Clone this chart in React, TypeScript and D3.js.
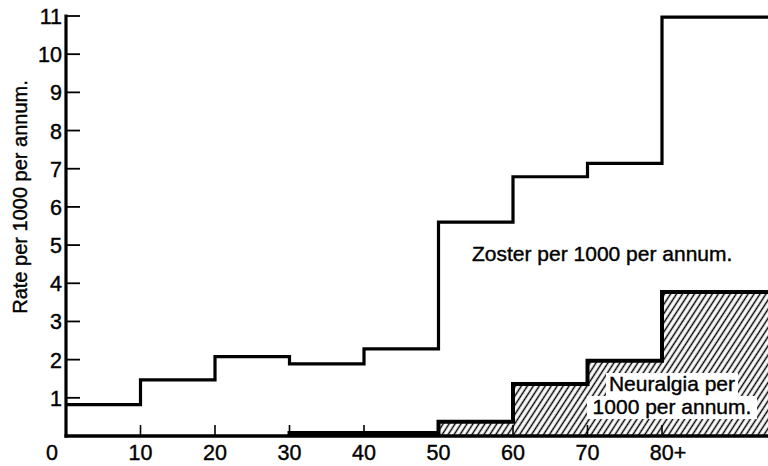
import React from "react";
import * as d3 from "d3";

// Age group boundaries (years); last group "80+" drawn open to the right edge
const ageStarts = [0, 10, 20, 30, 40, 50, 60, 70, 80];
const ageEnd = 95;

// Rate per 1000 per annum
const zosterRates = [0.82, 1.47, 2.08, 1.89, 2.28, 5.6, 6.79, 7.14, 10.97];
const neuralgiaStarts = [30, 40, 50, 60, 70, 80];
const neuralgiaRates = [0.08, 0.08, 0.37, 1.36, 1.97, 3.77];

const yTicks = [1, 2, 3, 4, 5, 6, 7, 8, 9, 10, 11];
const xTickValues = [10, 20, 30, 40, 50, 60, 70, 80];
const xTickLabels = ["0", "10", "20", "30", "40", "50", "60", "70", "80+"];
const xLabelValues = [0, 10, 20, 30, 40, 50, 60, 70, 80];

const yTitle = "Rate per 1000 per annum.";
const zosterLabel = "Zoster per 1000 per annum.";
const neuralgiaLabel = ["Neuralgia per", "1000 per annum."];

const W = 768;
const H = 466;
const FONT = "'Liberation Sans', Arial, Helvetica, sans-serif";
const TS = { stroke: "#000", strokeWidth: 0.4 };

export default function App() {
  const x = d3.scaleLinear().domain([0, 80]).range([66, 662]);
  const y = d3.scaleLinear().domain([0, 11]).range([436, 16]);

  const zPts: [number, number][] = ageStarts.map((a, i) => [a, zosterRates[i]]);
  zPts.push([ageEnd, zosterRates[zosterRates.length - 1]]);
  const stepLine = d3
    .line<[number, number]>()
    .x((d) => x(d[0]))
    .y((d) => y(d[1]))
    .curve(d3.curveStepAfter);

  const nPts: [number, number][] = neuralgiaStarts.map((a, i) => [a, neuralgiaRates[i]]);
  nPts.push([ageEnd, neuralgiaRates[neuralgiaRates.length - 1]]);
  const nArea = d3
    .area<[number, number]>()
    .x((d) => x(d[0]))
    .y0(y(0))
    .y1((d) => y(d[1]))
    .curve(d3.curveStepAfter);

  const nOutline: [number, number][] = [[neuralgiaStarts[0], 0], ...nPts];

  const labelOffsets: Record<string, number> = { "0": -14, "80+": 6 };

  return (
    <svg
      width={W}
      height={H}
      style={{ position: "absolute", left: 0, top: 0, background: "#fff" }}
      fontFamily={FONT}
    >
      <defs>
        <pattern
          id="hatch"
          patternUnits="userSpaceOnUse"
          width={5}
          height={10}
          patternTransform="rotate(33)"
        >
          <line x1={2.5} y1={0} x2={2.5} y2={10} stroke="#000" strokeWidth={1.5} />
        </pattern>
      </defs>
      <rect x={0} y={0} width={W} height={H} fill="#fff" />

      {/* Neuralgia hatched area */}
      <path d={nArea(nPts) || ""} fill="url(#hatch)" stroke="none" />
      <path
        d={stepLine(nOutline) || ""}
        fill="none"
        stroke="#000"
        strokeWidth={4}
        strokeLinejoin="miter"
      />

      {/* Neuralgia label with white background */}
      {neuralgiaLabel.map((t, i) => {
        const cx = 672;
        const by = 391 + i * 23;
        const w = i === 0 ? 132 : 170;
        return (
          <g key={t}>
            <rect x={cx - w / 2} y={by - 18} width={w} height={23} fill="#fff" />
            <text x={cx} y={by} textAnchor="middle" fontSize={21} fill="#000" {...TS}>
              {t}
            </text>
          </g>
        );
      })}

      {/* Zoster step line */}
      <path
        d={stepLine(zPts) || ""}
        fill="none"
        stroke="#000"
        strokeWidth={3.2}
        strokeLinejoin="miter"
      />

      {/* Axes */}
      <line x1={x(0)} y1={y(11) - 1.5} x2={x(0)} y2={y(0) + 1.5} stroke="#000" strokeWidth={3.2} />
      <line x1={x(0) - 1.5} y1={y(0)} x2={W} y2={y(0)} stroke="#000" strokeWidth={3.5} />

      {yTicks.map((t) => (
        <g key={"yt" + t}>
          <line x1={x(0)} x2={x(0) + 14} y1={y(t)} y2={y(t)} stroke="#000" strokeWidth={1.8} />
          <text x={62} y={y(t) + 8} textAnchor="end" fontSize={21.5} fill="#000" {...TS}>
            {t}
          </text>
        </g>
      ))}

      {xTickValues.map((v) => (
        <line key={"xt" + v} x1={x(v)} x2={x(v)} y1={y(0)} y2={y(0) - 11} stroke="#000" strokeWidth={1.6} />
      ))}
      {xTickLabels.map((lab, i) => (
        <text
          key={"xl" + lab}
          x={x(xLabelValues[i]) + (labelOffsets[lab] || 0)}
          y={460}
          textAnchor="middle"
          fontSize={21.5}
          fill="#000"
          {...TS}
        >
          {lab}
        </text>
      ))}

      {/* Y axis title */}
      <text
        transform={`translate(27, 197) rotate(-90)`}
        textAnchor="middle"
        fontSize={20}
        fill="#000"
        {...TS}
      >
        {yTitle}
      </text>

      {/* Zoster label */}
      <text x={472} y={261} fontSize={21} fill="#000" {...TS}>
        {zosterLabel}
      </text>
    </svg>
  );
}
